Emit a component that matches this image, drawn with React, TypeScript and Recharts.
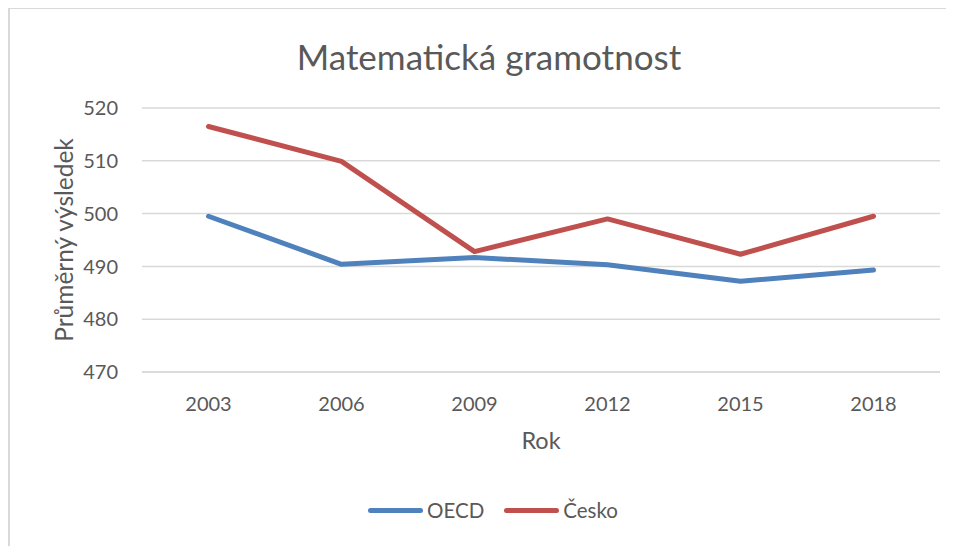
import { LineChart, Line, XAxis, YAxis, CartesianGrid, Legend } from 'recharts'

const years = ['2003', '2006', '2009', '2012', '2015', '2018']
const oecd = [499.5, 490.4, 491.7, 490.3, 487.2, 489.3]
const cesko = [516.5, 509.9, 492.8, 499.0, 492.3, 499.5]
const yTicks = [470, 480, 490, 500, 510, 520]

const seriesInfo = [
  { key: 'OECD', color: '#4F81BD' },
  { key: 'Česko', color: '#C0504D' },
]

const data = years.map((year, i) => ({ year, OECD: oecd[i], 'Česko': cesko[i] }))

const font = 'Lato, "Open Sans", sans-serif'
const textColor = '#595959'

function LegendContent() {
  return (
    <div style={{ display: 'flex', justifyContent: 'center', alignItems: 'center', fontFamily: font, fontSize: 20.5, color: textColor, paddingLeft: 40 }}>
      {seriesInfo.map((s) => (
        <div key={s.key} style={{ display: 'flex', alignItems: 'center', marginRight: 20 }}>
          <span style={{ display: 'inline-block', width: 55, height: 5, borderRadius: 3, background: s.color, marginRight: 4 }} />
          <span>{s.key}</span>
        </div>
      ))}
    </div>
  )
}

export default function App() {
  return (
    <div style={{ position: 'relative', width: 946, height: 538, marginTop: -1, borderLeft: '2px solid #d9d9d9', borderTop: '2px solid #d9d9d9', background: '#fff' }}>
      <div style={{ position: 'absolute', top: 26, left: 0, width: 958, textAlign: 'center', fontFamily: font, fontSize: 35, color: textColor }}>
        Matematická gramotnost
      </div>
      <LineChart width={946} height={538} data={data} margin={{ top: 99, right: 16, left: 0, bottom: 135 }}>
        <CartesianGrid vertical={false} stroke="#d9d9d9" strokeWidth={1.5} />
        <XAxis
          dataKey="year"
          padding={{ left: 66.5, right: 66.5 }}
          axisLine={{ stroke: '#d9d9d9', strokeWidth: 1.5 }}
          tickLine={false}
          tickSize={0}
          tickMargin={25}
          height={40}
          tick={{ fill: textColor, fontSize: 20, fontFamily: font }}
          label={{
            content: ({ viewBox }: any) => (
              <text x={viewBox.x + viewBox.width / 2} y={431} textAnchor="middle" dominantBaseline="central" fill={textColor} fontSize={23.5} fontFamily={font}>
                Rok
              </text>
            ),
          }}
        />
        <YAxis
          domain={[470, 520]}
          ticks={yTicks}
          axisLine={false}
          tickLine={false}
          tickSize={0}
          tickMargin={24}
          width={132}
          tick={{ fill: textColor, fontSize: 20, fontFamily: font }}
          label={{
            content: ({ viewBox }: any) => {
              const cx = viewBox.x + 53
              const cy = viewBox.y + viewBox.height / 2
              return (
                <text x={cx} y={cy} transform={`rotate(-90 ${cx} ${cy})`} textAnchor="middle" dominantBaseline="central" fill={textColor} fontSize={24.5} fontFamily={font}>
                  Průměrný výsledek
                </text>
              )
            },
          }}
        />
        <Legend verticalAlign="middle" align="center" wrapperStyle={{ top: 489, left: 0, width: 946 }} content={<LegendContent />} />
        {seriesInfo.map((s) => (
          <Line
            key={s.key}
            dataKey={s.key}
            stroke={s.color}
            strokeWidth={5}
            strokeLinecap="round"
            strokeLinejoin="round"
            dot={false}
            activeDot={false}
            isAnimationActive={false}
          />
        ))}
      </LineChart>
    </div>
  )
}
